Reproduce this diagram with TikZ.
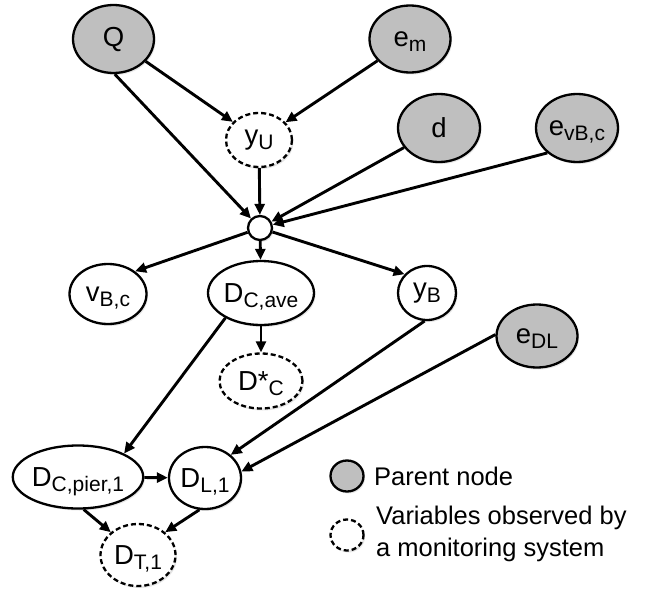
\documentclass[tikz,border=0pt]{standalone}
\usepackage{fontspec}
\setmainfont{Liberation Sans}
\usetikzlibrary{arrows.meta,shapes.geometric,shadows}
\newcommand\lo[1]{\raisebox{-5.5pt}[0pt][0pt]{\fontsize{21}{21}\selectfont #1}}
\tikzset{
	var/.style={draw, ellipse, fill=white, line width=2.3pt, inner sep=0pt, font=\fontsize{27.5}{30}\selectfont,
		drop shadow={opacity=0.2, shadow xshift=1.5pt, shadow yshift=-2pt}},
	parent/.style={var, fill=black!25},
	observed/.style={var, dash pattern=on 5pt off 3pt},
	link/.style={line width=2.9pt, -{Triangle[length=11pt,width=10pt]}},
	legendtext/.style={inner sep=0pt, align=left, font=\fontsize{25.5}{32}\selectfont},
}

\begin{document}
\begin{tikzpicture}[x=1pt, y=-1pt]
	%%%%% START %%%%%
	\useasboundingbox (0,0) rectangle (645,594);
	
	% parent nodes
	\node[parent, minimum width=81, minimum height=68] (Q) at (113.5, 39) {Q};
	\node[parent, minimum width=81, minimum height=67] (em) at (410, 39) {e\lo{m}};
	\node[parent, minimum width=82, minimum height=68] (d) at (439, 128) {d};
	\node[parent, minimum width=82, minimum height=68] (evbc) at (577, 128) {e\lo{vB,c}};
	\node[parent, minimum width=81, minimum height=63] (edl) at (537, 336) {e\lo{DL}};
	
	% observed
	\node[observed, minimum width=66, minimum height=54] (yU) at (259, 140) {y\lo{U}};
	\node[observed, minimum width=83, minimum height=55] (Dstar) at (261, 381) {D*\lo{C}};
	\node[observed, minimum width=75, minimum height=62] (DT) at (138, 555) {D\lo{T,1}};
	
	% the rest
	\node[var, circle, minimum size=24] (hub) at (260, 228) {};
	\node[var, minimum width=77, minimum height=60] (vbc) at (108, 294) {v\lo{B,c}};
	\node[var, minimum width=106, minimum height=64] (Dave) at (261, 293) {D\lo{C,ave}};
	\node[var, minimum width=58, minimum height=54] (yB) at (427, 293) {y\lo{B}};
	\node[var, minimum width=126, minimum height=63] (Dpier) at (78, 477) {D\lo{C,pier,1}};
	\node[var, minimum width=72, minimum height=62] (DL) at (205, 478) {D\lo{L,1}};
	
	% arrows
	\draw[link] (Q) -- (yU);
	\draw[link] (em) -- (yU);
	\draw[link] (Q.272) -- (hub);
	\draw[link] (yU) -- (hub);
	\draw[link] (d) -- (hub);
	\draw[link] (evbc.220) -- (hub);
	\draw[link] (hub) -- (vbc.40);
	\draw[link] (hub) -- (Dave);
	\draw[link] (hub) -- (yB.140);
	\draw[link] (Dave) -- (Dstar);
	\draw[link] (Dave.215) -- (Dpier.27);
	\draw[link] (yB.265) -- (DL.42);
	\draw[link] (edl.178) -- (DL.10);
	\draw[link] (Dpier) -- (DL);
	\draw[link] (Dpier.280) -- (DT.140);
	\draw[link] (DL.260) -- (DT.40);
	
	% legend
	\node[parent, minimum width=33, minimum height=31] (legparent) at (347, 476) {};
	\node[legendtext, anchor=base west] (legparenttext) at (374, 485) {Parent node};
	\node[observed, minimum width=33, minimum height=31] (legobs) at (347, 535) {};
	\node[legendtext, anchor=west] (legobstext) at (376, 534) {Variables observed by\\a monitoring system};
	
	%%%%% END %%%%%
\end{tikzpicture}
\end{document}
